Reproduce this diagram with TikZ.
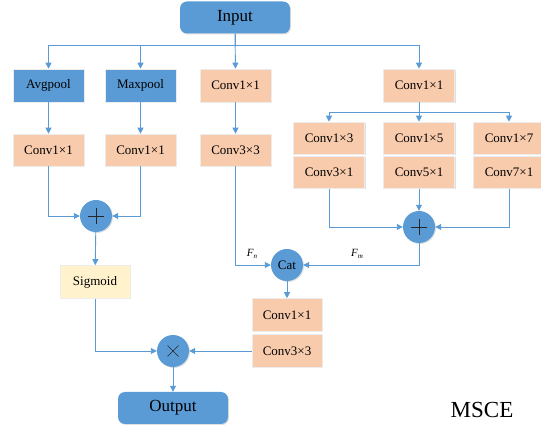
\documentclass[tikz,border=0pt]{standalone}
\usepackage{fontspec}
\setmainfont{Liberation Serif}
\newfontfamily\tnr{Liberation Serif}
\usetikzlibrary{arrows.meta,shadows}
\definecolor{bl}{HTML}{5B9BD5}
\definecolor{og}{HTML}{F8CBAD}
\definecolor{yl}{HTML}{FFF2CC}
\begin{document}
\begin{tikzpicture}[x=1pt,y=-1pt,
  shad/.style={drop shadow={shadow xshift=1pt,shadow yshift=-1pt,opacity=0.25}},
  bluebox/.style={rectangle,fill=bl,draw=white!85!gray,line width=0.6pt,minimum width=71pt,minimum height=33pt,inner sep=0pt,font=\tnr\fontsize{13}{15}\selectfont,shad},
  orbox/.style={rectangle,fill=og,draw=white!85!gray,line width=0.6pt,minimum width=71pt,minimum height=32pt,inner sep=0pt,font=\tnr\fontsize{13}{15}\selectfont,shad},
  sigbox/.style={rectangle,fill=yl,draw=white!85!gray,line width=0.6pt,minimum width=70pt,minimum height=33pt,inner sep=0pt,font=\tnr\fontsize{13}{15}\selectfont,shad},
  term/.style={rectangle,rounded corners=7pt,fill=bl,minimum width=110pt,minimum height=32pt,inner sep=0pt,font=\tnr\fontsize{17}{19}\selectfont,shad},
  opc/.style={circle,fill=bl,minimum size=32pt,inner sep=0pt,font=\tnr\fontsize{13}{15}\selectfont,shad},
  arr/.style={draw=bl,line width=0.9pt,-{Triangle[length=6pt,width=6pt]}},
  sym/.style={draw=black!85,line width=0.8pt},
  flab/.style={font=\tnr\fontsize{11}{13}\selectfont\itshape}
]
\useasboundingbox (0,0) rectangle (541,427);
% nodes
\node[term] (input) at (235,17.5) {Input};
\node[bluebox] (avg) at (48.5,85.5) {Avgpool};
\node[bluebox] (max) at (140.5,85.5) {Maxpool};
\node[orbox,minimum height=33pt] (c1) at (235.5,85.5) {Conv1×1};
\node[orbox,minimum height=33pt] (c4) at (419,85.5) {Conv1×1};
\node[orbox] (ca) at (48.5,150) {Conv1×1};
\node[orbox] (cm) at (140.5,150) {Conv1×1};
\node[orbox] (c33) at (235.5,150) {Conv3×3};
\node[orbox] (r13) at (329,138) {Conv1×3};
\node[orbox] (r31) at (329,172.5) {Conv3×1};
\node[orbox] (r15) at (419,138) {Conv1×5};
\node[orbox] (r51) at (419,172.5) {Conv5×1};
\node[orbox] (r17) at (509,138) {Conv1×7};
\node[orbox] (r71) at (509,172.5) {Conv7×1};
\node[opc] (plusL) at (96,216) {};
\node[opc] (plusR) at (419,227) {};
\node[opc] (cat) at (287,265) {Cat};
\node[sigbox] (sig) at (95,282) {Sigmoid};
\node[orbox,minimum width=70pt,minimum height=33pt] (cb1) at (287,315) {Conv1×1};
\node[orbox,minimum width=70pt,minimum height=33pt] (cb3) at (287,351) {Conv3×3};
\node[opc] (times) at (173,351) {};
\node[term] (output) at (173,408) {Output};
\node[font=\tnr\fontsize{23}{26}\selectfont] (msce) at (482,410) {MSCE};
% symbols
\draw[sym] ([xshift=-8pt]plusL.center) -- ([xshift=8pt]plusL.center);
\draw[sym] ([yshift=-8pt]plusL.center) -- ([yshift=8pt]plusL.center);
\draw[sym] ([xshift=-8pt]plusR.center) -- ([xshift=8pt]plusR.center);
\draw[sym] ([yshift=-8pt]plusR.center) -- ([yshift=8pt]plusR.center);
\draw[sym,line width=0.6pt] ([shift={(-5.5pt,-5.5pt)}]times.center) -- ([shift={(5.5pt,5.5pt)}]times.center);
\draw[sym,line width=0.6pt] ([shift={(-5.5pt,5.5pt)}]times.center) -- ([shift={(5.5pt,-5.5pt)}]times.center);
% connectors
\draw[arr] (input.south) -- ++(0,12) -| (avg.north);
\draw[arr] (input.south) -- ++(0,12) -| (max.north);
\draw[arr] (input.south) -- (c1.north);
\draw[arr] (input.south) -- ++(0,12) -| (c4.north);
\draw[arr] (avg) -- (ca);
\draw[arr] (max) -- (cm);
\draw[arr] (c1) -- (c33);
\draw[arr] (c4.south) -- ++(0,10.5) -| (r13.north);
\draw[arr] (c4.south) -- (r15.north);
\draw[arr] (c4.south) -- ++(0,10.5) -| (r17.north);
\draw[arr] (ca.south) |- (plusL.west);
\draw[arr] (cm.south) |- (plusL.east);
\draw[arr] (plusL) -- (sig);
\draw[arr] (r31.south) |- (plusR.west);
\draw[arr] (r51.south) -- (plusR.north);
\draw[arr] (r71.south) |- (plusR.east);
\draw[arr] (c33.south) |- (cat.west);
\draw[arr] (plusR.south) |- (cat.east);
\draw[arr] (cat) -- (cb1);
\draw[arr] (sig.south) |- (times.west);
\draw[arr] (cb3.west) -- (times.east);
\draw[arr] (times) -- (output);
% labels
\node[flab] (fn) at (252,254) {F\raisebox{-0.35ex}{\fontsize{7}{8}\selectfont n}};
\node[flab] (fm) at (357,254) {F\raisebox{-0.35ex}{\fontsize{7}{8}\selectfont m}};
\end{tikzpicture}
\end{document}
